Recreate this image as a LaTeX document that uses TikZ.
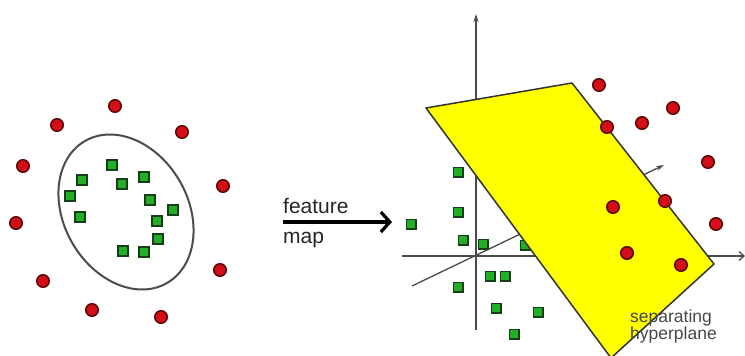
\documentclass[tikz,border=0pt]{standalone}
\usepackage{fontspec}
\setmainfont{Liberation Sans}
\usetikzlibrary{shapes.geometric,arrows.meta}
\definecolor{ptred}{HTML}{D40D16}
\definecolor{ptredd}{HTML}{5A0808}
\definecolor{ptgreen}{HTML}{22AE26}
\definecolor{ptgreend}{HTML}{173F17}
\definecolor{axisgray}{HTML}{4A4A4A}
\definecolor{planeyellow}{HTML}{FFFF00}
\tikzset{
  redpt/.style={circle, fill=ptred, draw=ptredd, line width=1.5pt, inner sep=0pt, minimum size=12.5pt},
  greenpt/.style={rectangle, fill=ptgreen, draw=ptgreend, line width=1.5pt, inner sep=0pt, minimum size=9.5pt},
  axisline/.style={draw=axisgray, line width=1.3pt, -{Stealth[length=8pt,width=5pt]}},
  lbl/.style={inner sep=0pt, anchor=base west, font=\fontsize{21}{24}\selectfont, text=black!85},
  sublbl/.style={inner sep=0pt, anchor=base west, font=\fontsize{17.5}{19}\selectfont, text=black!72},
}
\begin{document}
\begin{tikzpicture}[x=1pt,y=-1pt]
\useasboundingbox (0,0) rectangle (745,356);
\begin{scope}
\clip (0,0) rectangle (745,356);
% ---------- left panel ----------
\node[draw=black!70, line width=2pt, ellipse, minimum width=164pt, minimum height=124pt, inner sep=0pt, rotate=-60] (ell) at (126,212) {};
\node[redpt] (l1) at (115,106) {};
\node[redpt] (l2) at (57,125) {};
\node[redpt] (l3) at (182,132) {};
\node[redpt] (l4) at (23,166) {};
\node[redpt] (l5) at (223,186) {};
\node[redpt] (l6) at (16,223) {};
\node[redpt] (l7) at (220,270) {};
\node[redpt] (l8) at (43,281) {};
\node[redpt] (l9) at (92,310) {};
\node[redpt] (l10) at (161,317) {};
\node[greenpt, minimum size=10pt] (g1) at (112,165) {};
\node[greenpt, minimum size=10pt] (g2) at (82,180) {};
\node[greenpt, minimum size=10pt] (g3) at (122,184) {};
\node[greenpt, minimum size=10pt] (g4) at (144,177) {};
\node[greenpt, minimum size=10pt] (g5) at (70,196) {};
\node[greenpt, minimum size=10pt] (g6) at (150,200) {};
\node[greenpt, minimum size=10pt] (g7) at (173,210) {};
\node[greenpt, minimum size=10pt] (g8) at (80,217) {};
\node[greenpt, minimum size=10pt] (g9) at (157,221) {};
\node[greenpt, minimum size=10pt] (g10) at (158,239) {};
\node[greenpt, minimum size=10pt] (g11) at (123,251) {};
\node[greenpt, minimum size=10pt] (g12) at (144,252) {};
% ---------- feature map arrow ----------
\node[lbl] (feat) at (283,213) {feature};
\node[lbl] (map) at (283,243) {map};
\coordinate (fa) at (283,222);
\coordinate (fb) at (392,222);
\draw[line width=3.2pt, -{Straight Barb[length=9pt,width=20pt]}] (fa) -- (fb);
% ---------- axes ----------
\coordinate (vbot) at (476,330);
\coordinate (vtop) at (476,14);
\coordinate (hl) at (402,256);
\coordinate (hr) at (745,256);
\coordinate (dl) at (412,286);
\coordinate (dr) at (664,165);
\draw[axisline] (vbot) -- (vtop);
\draw[axisline, -{Straight Barb[length=5pt,width=9pt]}] (hl) -- (hr);
\draw[axisline] (dl) -- (dr);
% ---------- green points (right) ----------
\node[greenpt] (h1) at (458,172) {};
\node[greenpt] (h2) at (458,212) {};
\node[greenpt] (h3) at (411,224) {};
\node[greenpt] (h4) at (463,240) {};
\node[greenpt] (h5) at (483,244) {};
\node[greenpt] (h6) at (525,245) {};
\node[greenpt] (h7) at (490,276) {};
\node[greenpt] (h8) at (505,276) {};
\node[greenpt] (h9) at (458,287) {};
\node[greenpt] (h10) at (496,308) {};
\node[greenpt] (h11) at (538,312) {};
\node[greenpt] (h12) at (514,334) {};
% ---------- hyperplane ----------
\coordinate (p1) at (426,108);
\coordinate (p2) at (572,83);
\coordinate (p3) at (714,264);
\coordinate (p4) at (611,358);
\draw[fill=planeyellow, draw=black!80, line width=1.5pt, line join=round] (p1) -- (p2) -- (p3) -- (p4) -- cycle;
% ---------- red points (right) ----------
\node[redpt] (s1) at (599,85) {};
\node[redpt] (s2) at (673,108) {};
\node[redpt] (s3) at (607,127) {};
\node[redpt] (s4) at (642,123) {};
\node[redpt] (s5) at (708,162) {};
\node[redpt] (s6) at (613,207) {};
\node[redpt] (s7) at (665,201) {};
\node[redpt] (s8) at (716,224) {};
\node[redpt] (s9) at (627,253) {};
\node[redpt] (s10) at (681,265) {};
% ---------- label ----------
\node[sublbl] (sep1) at (630,322) {separating};
\node[sublbl] (sep2) at (630,339.5) {hyperplane};
\end{scope}
\end{tikzpicture}
\end{document}
